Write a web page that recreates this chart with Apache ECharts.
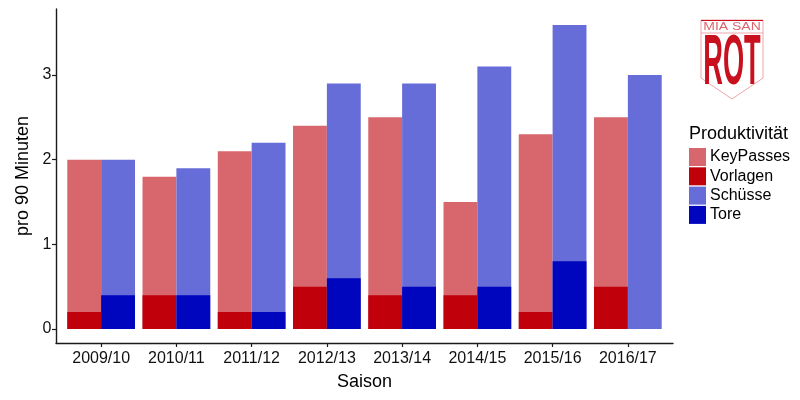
<!DOCTYPE html>
<html><head><meta charset="utf-8">
<style>html,body{margin:0;padding:0;background:#fff}#c{width:800px;height:400px}</style>
<script src="https://cdn.jsdelivr.net/npm/echarts@6/dist/echarts.min.js"></script>
</head><body><div id="c"></div>
<script>
const seasons = ['2009/10','2010/11','2011/12','2012/13','2013/14','2014/15','2015/16','2016/17'];
const keyPasses = [2.0,1.8,2.1,2.4,2.5,1.5,2.3,2.5];
const vorlagen = [0.2,0.4,0.2,0.5,0.4,0.4,0.2,0.5];
const schuesse = [2.0,1.9,2.2,2.9,2.9,3.1,3.59,3.0];
const tore = [0.4,0.4,0.2,0.6,0.5,0.5,0.8,0];
const yTicks = [0,1,2,3];
const xTicks = seasons.map((s,i)=>i);
const FONT = '"Liberation Sans", Arimo, Helvetica, Arial, sans-serif';
const LOGO = '#c8101e';

function barRenderer(side){
  return function(params, api){
    const i = api.value(0), v = api.value(1);
    const w = api.size([0.45,0])[0];
    const p0 = api.coord([i,0]), p1 = api.coord([i,v]);
    const x = side < 0 ? p0[0]-w : p0[0];
    return {type:'rect', shape:{x:x, y:p1[1], width:w, height:p0[1]-p1[1]}, style:api.style()};
  };
}
function series(name, vals, color, side){
  return {name:name, type:'custom', renderItem:barRenderer(side), xAxisIndex:0, yAxisIndex:0,
    encode:{x:0,y:1}, itemStyle:{color:color}, data:vals.map((v,i)=>[i,v])};
}
const axisLine = {show:true, onZero:false, lineStyle:{color:'#1a1a1a', width:1.4}};
const chart = echarts.init(document.getElementById('c'), null, {renderer:'canvas'});
chart.setOption({
  animation:false,
  backgroundColor:'#fff',
  textStyle:{fontFamily:FONT},
  grid:{left:56, top:9, width:617, height:334, containLabel:false},
  title:{text:'Produktivität', left:689, top:125, textStyle:{fontFamily:FONT, fontSize:18, fontWeight:'normal', color:'#000'}, padding:0},
  legend:{orient:'vertical', left:689, top:148, padding:0, itemWidth:17, itemHeight:18, itemGap:1.3,
    icon:'rect', selectedMode:false, data:['KeyPasses','Vorlagen','Schüsse','Tore'],
    textStyle:{fontFamily:FONT, fontSize:16, color:'#000', padding:[2,0,0,-1]}},
  xAxis:{type:'value', min:-0.6, max:7.6, splitLine:{show:false}, axisLine:axisLine,
    axisTick:{show:true, length:4, customValues:xTicks, lineStyle:{color:'#1a1a1a', width:1.2}},
    axisLabel:{customValues:xTicks, margin:8, fontSize:16, color:'#111', fontFamily:FONT, formatter:v=>seasons[v]},
    name:'Saison', nameLocation:'middle', nameGap:30, nameTextStyle:{fontSize:18, color:'#000', fontFamily:FONT}},
  yAxis:{type:'value', min:-0.165, max:3.78, splitLine:{show:false}, axisLine:axisLine,
    axisTick:{show:true, length:4, customValues:yTicks, lineStyle:{color:'#1a1a1a', width:1.2}},
    axisLabel:{customValues:yTicks, margin:4.5, padding:[2,0,0,0], fontSize:16, color:'#111', fontFamily:FONT, formatter:v=>String(v)},
    name:'pro 90 Minuten', nameLocation:'middle', nameGap:17.5, nameRotate:90, nameTextStyle:{fontSize:18, color:'#000', fontFamily:FONT}},
  series:[
    series('KeyPasses', keyPasses, '#d8666d', -1),
    series('Vorlagen', vorlagen, '#c0000b', -1),
    series('Schüsse', schuesse, '#666cd8', 1),
    series('Tore', tore, '#0005be', 1)
  ],
  graphic:[
    {type:'polyline', silent:true, shape:{points:[[701,20],[763,20],[763,78],[732,99],[701,78],[701,20]]}, style:{fill:'#fff', stroke:'#eda5a9', lineWidth:1}},
    {type:'line', silent:true, shape:{x1:701,y1:20.5,x2:763,y2:20.5}, style:{stroke:LOGO, lineWidth:1}},
    {type:'line', silent:true, shape:{x1:701,y1:33,x2:763,y2:33}, style:{stroke:'#eda5a9', lineWidth:1}},
    {type:'text', silent:true, x:732, y:27, scaleX:1.4, style:{text:'MIA SAN', x:0, y:0, align:'center', verticalAlign:'middle', fontFamily:FONT, fontSize:10, fill:LOGO, opacity:0.65}},
    {type:'text', silent:true, x:732, y:65, scaleX:1.36, scaleY:3.5, style:{text:'ROT', x:0, y:0, align:'center', verticalAlign:'middle', fontFamily:FONT, fontSize:20, fontWeight:'bold', fill:LOGO}}
  ]
});
</script></body></html>
